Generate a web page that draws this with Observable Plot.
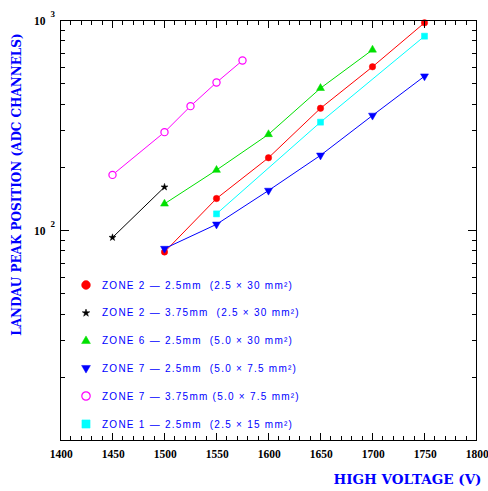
<!DOCTYPE html>
<html><head><meta charset="utf-8">
<script src="https://cdn.jsdelivr.net/npm/d3@7"></script>
<script src="https://cdn.jsdelivr.net/npm/@observablehq/plot@0.6"></script>
<style>
body{margin:0;background:#fff;}
#wrap{position:relative;width:488px;height:491px;}
#legend{position:absolute;left:0;top:0;font-family:"Liberation Sans",Arial,sans-serif;font-size:10px;letter-spacing:1.25px;color:#0000ff;}
.row{position:absolute;white-space:pre;display:flex;align-items:center;height:14px;}
.row svg{margin-right:9px;}
</style>
</head><body>
<div id="wrap"><div id="legend"></div></div>
<script>
// ---- data ----
const zone2_25_x = [1500, 1550, 1600, 1650, 1700, 1750];
const zone2_25_y = [79, 142, 222, 382, 602, 975];
const zone2_375_x = [1450, 1500];
const zone2_375_y = [92.6, 161];
const zone6_25_x = [1500, 1550, 1600, 1650, 1700];
const zone6_25_y = [134, 194, 287, 476, 725];
const zone7_25_x = [1500, 1550, 1600, 1650, 1700, 1750];
const zone7_25_y = [82, 107, 155, 228, 353, 543];
const zone7_375_x = [1450, 1500, 1525, 1550, 1575];
const zone7_375_y = [184, 294, 391, 507, 645];
const zone1_25_x = [1550, 1650, 1750];
const zone1_25_y = [120, 328, 842];

const legendLabels = [
  "ZONE 2 — 2.5mm  (2.5 × 30 mm²)",
  "ZONE 2 — 3.75mm  (2.5 × 30 mm²)",
  "ZONE 6 — 2.5mm  (5.0 × 30 mm²)",
  "ZONE 7 — 2.5mm  (5.0 × 7.5 mm²)",
  "ZONE 7 — 3.75mm (5.0 × 7.5 mm²)",
  "ZONE 1 — 2.5mm  (2.5 × 15 mm²)"
];
const xTickLabels = [1400, 1450, 1500, 1550, 1600, 1650, 1700, 1750, 1800];
const yTickLabels = [100, 1000];
const xTitle = "HIGH VOLTAGE (V)";
const yTitle = "LANDAU PEAK POSITION (ADC CHANNELS)";

// ---- symbols ----
const triDown = {draw(ctx, size){
  const s = Math.sqrt(size) * 0.6824, t = s / 2, u = s * Math.sqrt(3) / 2;
  ctx.moveTo(0, s); ctx.lineTo(u, -t); ctx.lineTo(-u, -t); ctx.closePath();
}};
const triUp = {draw(ctx, size){
  const s = Math.sqrt(size) * 0.6824, t = s / 2, u = s * Math.sqrt(3) / 2;
  ctx.moveTo(0, -s); ctx.lineTo(u, t); ctx.lineTo(-u, t); ctx.closePath();
}};

const series = [
  {xs: zone2_25_x, ys: zone2_25_y, color: "#ff0000", symbol: "circle", r: 3.2, li: 4.4, filled: true},
  {xs: zone2_375_x, ys: zone2_375_y, color: "#000000", symbol: "star", r: 2.2, li: 2.4, filled: true},
  {xs: zone6_25_x, ys: zone6_25_y, color: "#00e000", symbol: triUp, r: 3.8, li: 4.2, filled: true},
  {xs: zone1_25_x, ys: zone1_25_y, color: "#00ffff", symbol: "square", r: 3.4, li: 4.6, filled: true},
  {xs: zone7_25_x, ys: zone7_25_y, color: "#0000ff", symbol: triDown, r: 3.8, li: 4.2, filled: true},
  {xs: zone7_375_x, ys: zone7_375_y, color: "#ff00ff", symbol: "circle", r: 3.6, li: 4.2, filled: false}
];
const legendOrder = [0, 1, 2, 4, 5, 3];

const tickShape = {draw(ctx, l){ ctx.moveTo(0, 0); ctx.lineTo(0, -l); }};
const xMajor = d3.range(1400, 1801, 50);
const xMinor = d3.range(1400, 1801, 10).filter(v => v % 50 !== 0);
const yMajor = [10, 100, 1000];
const yMinor = [...d3.range(20, 100, 10), ...d3.range(200, 1000, 100)];

const serif = "'Liberation Serif','Times New Roman',serif";
const wideSerif = "'DejaVu Serif',serif";
const marks = [];
for (const s of series) {
  const rows = s.xs.map((x, i) => ({x, y: s.ys[i]}));
  marks.push(Plot.line(rows, {x: "x", y: "y", stroke: s.color, strokeWidth: 1}));
}
for (const s of series) {
  const rows = s.xs.map((x, i) => ({x, y: s.ys[i]}));
  marks.push(Plot.dot(rows, {x: "x", y: "y", r: s.r, symbol: s.symbol,
    fill: s.filled ? s.color : "white", stroke: s.color, strokeWidth: s.filled ? 0.5 : 1.2}));
}
const tk = (data, o) => Plot.vector(data, {anchor: "start", shape: tickShape, stroke: "black", strokeWidth: 1, shapeRendering: "crispEdges", ...o});
marks.push(
  tk(xMajor, {x: d => d, frameAnchor: "bottom", length: 7, rotate: 0}),
  tk(xMinor, {x: d => d, frameAnchor: "bottom", length: 4, rotate: 0}),
  tk(xMajor, {x: d => d, frameAnchor: "top", length: 7, rotate: 180}),
  tk(xMinor, {x: d => d, frameAnchor: "top", length: 4, rotate: 180}),
  tk(yMajor, {y: d => d, frameAnchor: "left", length: 8, rotate: 90}),
  tk(yMinor, {y: d => d, frameAnchor: "left", length: 4, rotate: 90}),
  tk(yMajor, {y: d => d, frameAnchor: "right", length: 8, rotate: -90}),
  tk(yMinor, {y: d => d, frameAnchor: "right", length: 4, rotate: -90}),
  Plot.frame({stroke: "black", strokeWidth: 1, shapeRendering: "crispEdges"}),
  Plot.text(xTickLabels, {x: d => d, frameAnchor: "bottom", dx: 0.7, dy: 17, text: d => String(d),
    fontFamily: serif, fontWeight: "bold", fontSize: 11.5, letterSpacing: 1.4, fill: "black"}),
  Plot.text(yTickLabels, {y: d => d, frameAnchor: "left", dx: -15, dy: 1, text: d => "10", textAnchor: "end",
    fontFamily: serif, fontWeight: "bold", fontSize: 11.5, letterSpacing: 1.2, fill: "black"}),
  Plot.text(yTickLabels, {y: d => d, frameAnchor: "left", dx: -10, dy: -6, text: d => String(Math.round(Math.log10(d))), textAnchor: "start",
    fontFamily: serif, fontWeight: "bold", fontSize: 9, fill: "black"}),
  Plot.text([xTitle], {frameAnchor: "bottom-right", dx: 5, dy: 43, text: d => d, textAnchor: "end",
    fontFamily: wideSerif, fontWeight: "bold", fontSize: 13.5, letterSpacing: 4.8, fill: "#0000ff"}),
  Plot.text([yTitle], {frameAnchor: "left", dx: -43, dy: -46, rotate: -90, text: d => d, textAnchor: "middle",
    fontFamily: wideSerif, fontWeight: "bold", fontSize: 12, letterSpacing: 3.4, fill: "#0000ff"})
);

const chart = Plot.plot({
  width: 488, height: 491,
  marginLeft: 60, marginRight: 12, marginTop: 20, marginBottom: 51,
  x: {type: "linear", domain: [1400, 1800], axis: null},
  y: {type: "log", domain: [10, 1000], axis: null},
  style: {background: "white", overflow: "visible"},
  marks
});
document.getElementById("wrap").prepend(chart);

// ---- legend (HTML overlay) ----
const legend = document.getElementById("legend");
legendOrder.forEach((si, i) => {
  const s = series[si];
  const row = document.createElement("div");
  row.className = "row";
  row.style.left = (86 - 7) + "px";
  row.style.top = (285 + i * 27.8 - 7) + "px";
  const size = Math.PI * s.li ** 2;
  const sym = typeof s.symbol === "string" ? ({circle: d3.symbolCircle, star: d3.symbolStar, square: d3.symbolSquare})[s.symbol] : s.symbol;
  const path = d3.symbol(sym, size)();
  row.innerHTML = `<svg width="14" height="14" viewBox="-7 -7 14 14"><path d="${path}" fill="${s.filled ? s.color : "white"}" stroke="${s.color}" stroke-width="${s.filled ? 0.5 : 1.2}"/></svg>`;
  const span = document.createElement("span");
  span.textContent = legendLabels[i];
  row.appendChild(span);
  legend.appendChild(row);
});
</script>
</body></html>
